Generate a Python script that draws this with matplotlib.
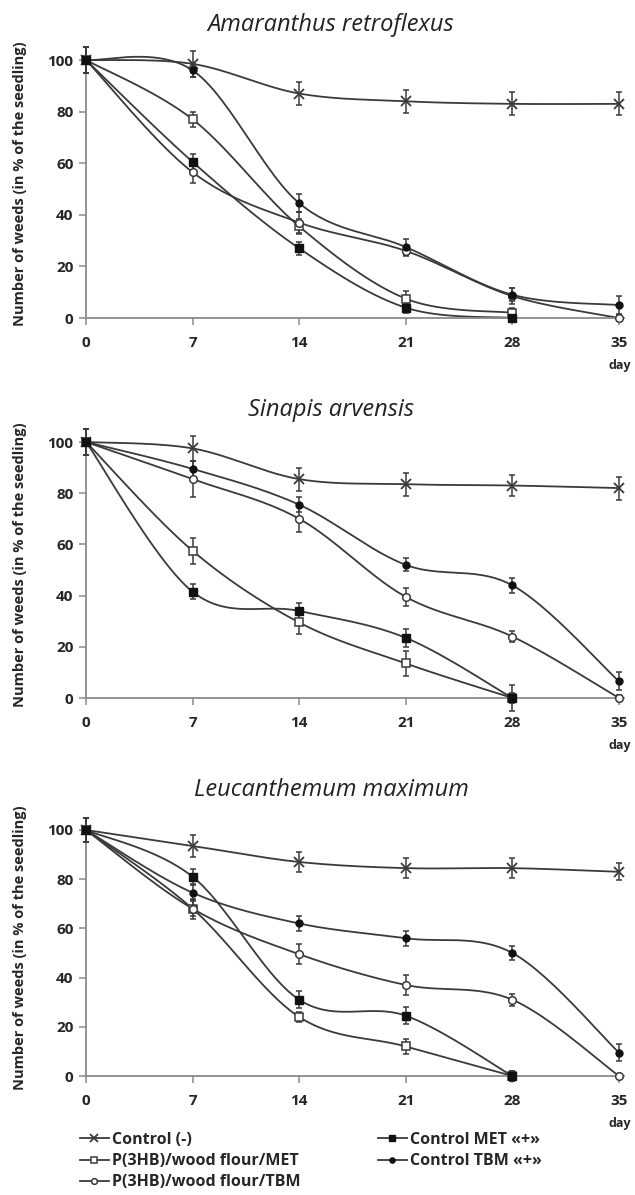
import numpy as np
import matplotlib
matplotlib.use("Agg")
import matplotlib.pyplot as plt
from matplotlib.lines import Line2D

days = [0, 7, 14, 21, 28, 35]
titles = ["Amaranthus retroflexus", "Sinapis arvensis", "Leucanthemum maximum"]
labels = ["Control (-)", "P(3HB)/wood flour/MET", "P(3HB)/wood flour/TBM",
          "Control MET «+»", "Control TBM «+»"]

# Panel 1: Amaranthus retroflexus
a_ctrl = [100, 98.5, 87, 84, 83, 83]
a_pmet = [100, 77, 35.5, 7.5, 2]
a_ptbm = [100, 56.5, 37, 26, 8.5, 0]
a_cmet = [100, 60.5, 27, 4, 0]
a_ctbm = [100, 96, 44.5, 27.5, 9, 5]
a_ctrl_err = [5, 5, 4.5, 4.5, 4.5, 4.5]
a_pmet_err = [5, 3, 3, 3, 2]
a_ptbm_err = [5, 4, 4, 2, 3, 1]
a_cmet_err = [5, 3, 2.5, 2, 1]
a_ctbm_err = [5, 2.5, 3.5, 3, 2.5, 3.5]

# Panel 2: Sinapis arvensis
s_ctrl = [100, 97.5, 85.5, 83.5, 83, 82]
s_pmet = [100, 57.5, 29.5, 13.5, 0]
s_ptbm = [100, 85.5, 70, 39.5, 24, 0]
s_cmet = [100, 41.5, 34, 23.5, 0]
s_ctbm = [100, 89.5, 75.5, 52, 44, 6.5]
s_ctrl_err = [5, 5, 4.5, 4.5, 4, 4.5]
s_pmet_err = [5, 5, 4.5, 5, 5]
s_ptbm_err = [5, 7, 5, 3.5, 2, 1]
s_cmet_err = [5, 3, 3, 3.5, 2]
s_ctbm_err = [5, 3, 3, 2.5, 3, 3.5]

# Panel 3: Leucanthemum maximum
l_ctrl = [100, 93.5, 87, 84.5, 84.5, 83]
l_pmet = [100, 68, 24, 12, 0]
l_ptbm = [100, 68, 49.5, 37, 31, 0]
l_cmet = [100, 81, 31, 24.5, 0]
l_ctbm = [100, 74.5, 62, 56, 50, 9.5]
l_ctrl_err = [5, 4.5, 4, 4, 4, 3.5]
l_pmet_err = [5, 3, 2, 3, 2]
l_ptbm_err = [5, 4, 4, 4, 2.5, 1]
l_cmet_err = [5, 3, 3.5, 3.5, 2]
l_ctbm_err = [5, 3, 3, 3, 3, 3.5]

panels = [
    [(a_ctrl, a_ctrl_err), (a_pmet, a_pmet_err), (a_ptbm, a_ptbm_err), (a_cmet, a_cmet_err), (a_ctbm, a_ctbm_err)],
    [(s_ctrl, s_ctrl_err), (s_pmet, s_pmet_err), (s_ptbm, s_ptbm_err), (s_cmet, s_cmet_err), (s_ctbm, s_ctbm_err)],
    [(l_ctrl, l_ctrl_err), (l_pmet, l_pmet_err), (l_ptbm, l_ptbm_err), (l_cmet, l_cmet_err), (l_ctbm, l_ctbm_err)],
]

LC = "#3a3a3a"
styles = [
    dict(marker="x", ms=7, mfc=LC, mec=LC, mew=1.3),
    dict(marker="s", ms=5.5, mfc="white", mec=LC, mew=1.1),
    dict(marker="o", ms=5.5, mfc="white", mec=LC, mew=1.1),
    dict(marker="s", ms=6, mfc="#111111", mec="#111111", mew=1.0),
    dict(marker="o", ms=5, mfc="#111111", mec="#111111", mew=1.0),
]


def smooth(x, y, n=30):
    pts = np.column_stack([x, y]).astype(float)
    segs = []
    m = len(pts)
    for i in range(m - 1):
        p0 = pts[i - 1] if i > 0 else pts[i]
        p1 = pts[i]
        p2 = pts[i + 1]
        p3 = pts[i + 2] if i + 2 < m else pts[i + 1]
        c1 = p1 + (p2 - p0) / 6.0
        c2 = p2 - (p3 - p1) / 6.0
        t = np.linspace(0, 1, n)[:, None]
        seg = ((1 - t) ** 3) * p1 + 3 * ((1 - t) ** 2) * t * c1 + 3 * (1 - t) * t ** 2 * c2 + t ** 3 * p2
        segs.append(seg if i == 0 else seg[1:])
    s = np.vstack(segs)
    return s[:, 0], s[:, 1]


plt.rcParams['font.family'] = ['Open Sans', 'DejaVu Sans']

fig = plt.figure(figsize=(6.35, 11.95), dpi=100)
W, H = 635.0, 1195.0
# (pixel y of value 0, pixel y of value 100, title y, "day" y)
geo = [(318, 60, 25, 366), (698, 442, 410, 746), (1076, 830, 790, 1124)]
x0px, x35px = 86.0, 619.0
ytop = 104

for k, ((y0, y100, ty, dl), series) in enumerate(zip(geo, panels)):
    ppu = (y0 - y100) / 100.0
    top_px = y100 - (ytop - 100) * ppu
    ax = fig.add_axes([x0px / W, 1 - y0 / H, (x35px - x0px) / W, (y0 - top_px) / H])
    ax.set_xlim(0, 35)
    ax.set_ylim(0, ytop)
    for sp in ["top", "right"]:
        ax.spines[sp].set_visible(False)
    for sp in ["left", "bottom"]:
        ax.spines[sp].set_color("#8a8a8a")
        ax.spines[sp].set_linewidth(1.3)
    ax.spines["bottom"].set_bounds(0, 35.3)
    ax.set_xticks(days)
    ax.set_yticks([0, 20, 40, 60, 80, 100])
    ax.tick_params(axis="x", direction="out", length=5, color="#8a8a8a", width=1.1, pad=8)
    ax.tick_params(axis="y", direction="out", length=5, color="#8a8a8a", width=1.1, pad=4)
    for lab in ax.get_xticklabels() + ax.get_yticklabels():
        lab.set_fontweight("bold")
        lab.set_fontsize(11)
        lab.set_color("#262626")
    for (vals, errs), st in zip(series, styles):
        xs = days[:len(vals)]
        sx, sy = smooth(xs, vals)
        ax.plot(sx, sy, color=LC, lw=1.3, clip_on=False, zorder=2)
        ax.errorbar(xs, vals, yerr=errs, fmt="none", ecolor=LC, elinewidth=1.1,
                    capsize=2.5, capthick=1.1, clip_on=False, zorder=3)
        ax.plot(xs, vals, ls="none", clip_on=False, zorder=4, **st)
    fig.text(331 / W, 1 - ty / H, titles[k], ha="center", va="center",
             fontsize=17, style="italic", color="#222222")
    fig.text(620 / W, 1 - dl / H, "day", ha="center", va="center", fontsize=9,
             fontweight="bold", color="#262626")
    fig.text(20 / W, 1 - (y0 + top_px) / 2 / H, "Number of weeds (in % of the seedling)",
             rotation=90, ha="center", va="center", fontsize=10.5, fontweight="bold", color="#262626")

handles = [Line2D([0], [0], color=LC, lw=1.3, **st) for st in styles]
common = dict(frameon=False, prop=dict(size=11.5, weight="bold"), handlelength=1.8,
              handletextpad=0.2, labelspacing=0.32, borderaxespad=0, borderpad=0,
              markerscale=0.75, loc="upper left")
leg1 = fig.legend(handles[:3], labels[:3], bbox_to_anchor=(80 / W, 1 - 1132 / H), **common)
leg2 = fig.legend(handles[3:], labels[3:], bbox_to_anchor=(378 / W, 1 - 1132 / H), **common)
for leg in (leg1, leg2):
    for t in leg.get_texts():
        t.set_color("#262626")

fig.savefig("out.png", dpi=100)
